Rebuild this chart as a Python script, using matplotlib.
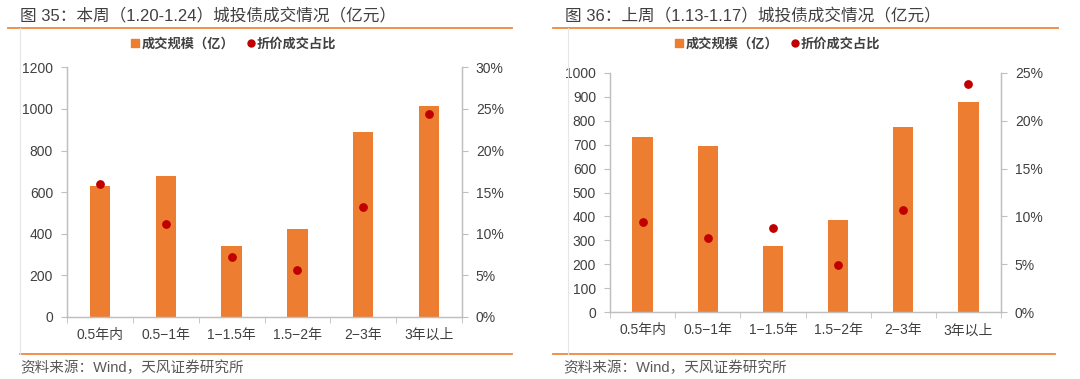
import matplotlib
matplotlib.use("Agg")
import matplotlib.pyplot as plt
from matplotlib.lines import Line2D
from matplotlib.ticker import FuncFormatter, FixedLocator

plt.rcParams['font.family'] = ['Liberation Sans', 'Noto Sans CJK SC', 'DejaVu Sans']

categories = ["0.5年内", "0.5−1年", "1−1.5年", "1.5−2年", "2−3年", "3年以上"]

# 图35 本周
volume_this = [630, 680, 340, 425, 888, 1015]
ratio_this = [16.0, 11.2, 7.2, 5.6, 13.2, 24.4]

# 图36 上周
volume_last = [730, 695, 277, 384, 772, 876]
ratio_last = [9.4, 7.8, 8.8, 4.9, 10.7, 23.8]

title_this = "图 35：本周（1.20-1.24）城投债成交情况（亿元）"
title_last = "图 36：上周（1.13-1.17）城投债成交情况（亿元）"
source = "资料来源：Wind，天风证券研究所"
legend_bar = "成交规模（亿）"
legend_dot = "折价成交占比"

W, H = 1080, 379
fig = plt.figure(figsize=(W / 100, H / 100), dpi=100)

BAR = "#ED7D31"
DOT = "#C00000"
SPINE = "#BFBFBF"
TXT = "#404040"
LINE = "#F0883A"


def px(x0, y0, x1, y1):
    return [x0 / W, 1 - y1 / H, (x1 - x0) / W, (y1 - y0) / H]


def panel(rect, vol, ratio, ymax, ystep, rmax, rstep):
    ax = fig.add_axes(rect)
    x = list(range(len(categories)))
    ax.bar(x, vol, width=0.31, color=BAR, zorder=2)
    ax.set_xlim(-0.5, len(categories) - 0.5)
    ax.set_ylim(0, ymax)
    ax.set_yticks(list(range(0, ymax + 1, ystep)))
    ax.set_xticks(x)
    ax.set_xticklabels(categories)
    ax.xaxis.set_minor_locator(FixedLocator([i - 0.5 for i in range(len(categories) + 1)]))
    ax.tick_params(axis='x', which='major', length=0, pad=8, labelsize=10, colors=TXT)
    ax.tick_params(axis='x', which='minor', length=4, color=SPINE, direction='out')
    ax.tick_params(axis='y', length=4, color=SPINE, labelsize=10, labelcolor=TXT, pad=6)
    ax.spines['top'].set_visible(False)
    for s in ['left', 'right', 'bottom']:
        ax.spines[s].set_color(SPINE)
        ax.spines[s].set_linewidth(1)
    ax2 = ax.twinx()
    ax2.scatter(x, ratio, s=28, color=DOT, zorder=3)
    ax2.set_ylim(0, rmax)
    ax2.set_yticks(list(range(0, rmax + 1, rstep)))
    ax2.yaxis.set_major_formatter(FuncFormatter(lambda v, p: f"{int(v)}%"))
    ax2.tick_params(axis='y', length=4, color=SPINE, labelsize=10, labelcolor=TXT, pad=6)
    ax2.spines['top'].set_visible(False)
    for s in ['left', 'right', 'bottom']:
        ax2.spines[s].set_color(SPINE)
    return ax, ax2


axL, axL2 = panel(px(67, 67.3, 462, 317), volume_this, ratio_this, 1200, 200, 30, 5)
axR, axR2 = panel(px(610, 72.7, 1001, 312.3), volume_last, ratio_last, 1000, 100, 25, 5)

# titles
fig.text(20 / W, 1 - 16 / H, title_this, fontsize=12, color=TXT, va='center', ha='left')
fig.text(565 / W, 1 - 16 / H, title_last, fontsize=12, color=TXT, va='center', ha='left')


def hline(x0, x1, y, color=LINE, lw=1.3):
    fig.add_artist(Line2D([x0 / W, x1 / W], [1 - y / H, 1 - y / H], color=color, lw=lw))


def vline(x, y0, y1, color="#E6E6E6", lw=0.8):
    fig.add_artist(Line2D([x / W, x / W], [1 - y0 / H, 1 - y1 / H], color=color, lw=lw))


hline(8, 512, 28)
hline(553, 1058, 28)
hline(20, 512, 354)
hline(553, 1055, 354)
vline(20, 28, 354)
vline(568, 28, 354)

# source
fig.text(20 / W, 1 - 368 / H, source, fontsize=10.5, color="#595959", va='center', ha='left')
fig.text(563 / W, 1 - 368 / H, source, fontsize=10.5, color="#595959", va='center', ha='left')


def legend(cx):
    handles = [
        Line2D([], [], marker='s', linestyle='none', color=BAR, markersize=6),
        Line2D([], [], marker='o', linestyle='none', color=DOT, markersize=5),
    ]
    fig.legend(handles, [legend_bar, legend_dot], loc='center', ncol=2,
               bbox_to_anchor=(cx / W, 1 - 44 / H), frameon=False,
               handlelength=0.6, handletextpad=0.2, columnspacing=0.9,
               prop={'size': 9.5, 'weight': 'bold'}, labelcolor=TXT)


legend(234)
legend(778)

fig.savefig("out.png", dpi=100)
